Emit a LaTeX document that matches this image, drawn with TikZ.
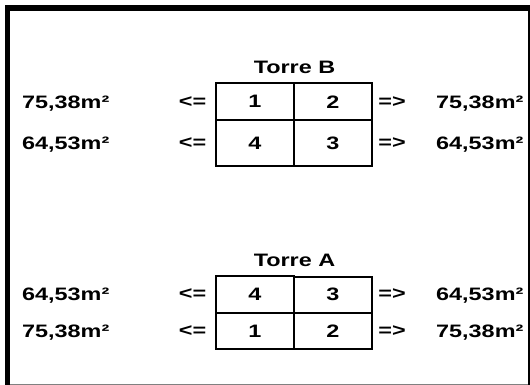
\documentclass[tikz,border=0pt]{standalone}
\usepackage{fontspec}
\setmainfont[FakeStretch=1.3]{Liberation Sans}
\usepackage{tikz}

\begin{document}
\begin{tikzpicture}[x=1pt,y=-1pt]
\tikzstyle{every node}+=[inner sep=0pt,font=\fontsize{18}{20}\selectfont\bfseries]
\tikzstyle{cell}=[draw=black,line width=2pt,minimum width=78pt]
\useasboundingbox (0,0) rectangle (530,385);
% frame
\fill [black] (5,5) rectangle (10,385);
\fill [black] (5,5) rectangle (530,11);
\fill [black] (527.5,11) rectangle (530,385);
\fill [gray] (10,383.5) rectangle (527.5,385);
% Torre B
\node (titB) at (294.5,67) {Torre B};
\node [cell,minimum height=37.5pt] (b1) at (255,101.75) {1};
\node [cell,minimum height=37.5pt] (b2) at (333,101.75) {2};
\node [cell,minimum height=45.5pt] (b4) at (255,143.25) {4};
\node [cell,minimum height=45.5pt] (b3) at (333,143.25) {3};
\node [anchor=west] (lb1) at (22,104) {75,38m²};
\node [anchor=west] (lb2) at (22,145) {64,53m²};
\node (ab1) at (192.5,102) {<=};
\node (ab2) at (192.5,143) {<=};
\node (cb1) at (392,102) {=>};
\node (cb2) at (392,143) {=>};
\node [anchor=west] (rb1) at (436,104) {75,38m²};
\node [anchor=west] (rb2) at (436,145) {64,53m²};
% Torre A
\node (titA) at (294.5,260.5) {Torre A};
\node [cell,minimum height=37pt] (a4) at (255,294.5) {4};
\node [cell,minimum height=36pt] (a3) at (333,294.5) {3};
\node [cell,minimum height=36pt] (a1) at (255,331) {1};
\node [cell,minimum height=36pt] (a2) at (333,331) {2};
\node [anchor=west] (la1) at (22,296) {64,53m²};
\node [anchor=west] (la2) at (22,333) {75,38m²};
\node (aa1) at (192.5,294.5) {<=};
\node (aa2) at (192.5,331) {<=};
\node (ca1) at (392,294.5) {=>};
\node (ca2) at (392,331) {=>};
\node [anchor=west] (ra1) at (436,296) {64,53m²};
\node [anchor=west] (ra2) at (436,333) {75,38m²};
\end{tikzpicture}
\end{document}
